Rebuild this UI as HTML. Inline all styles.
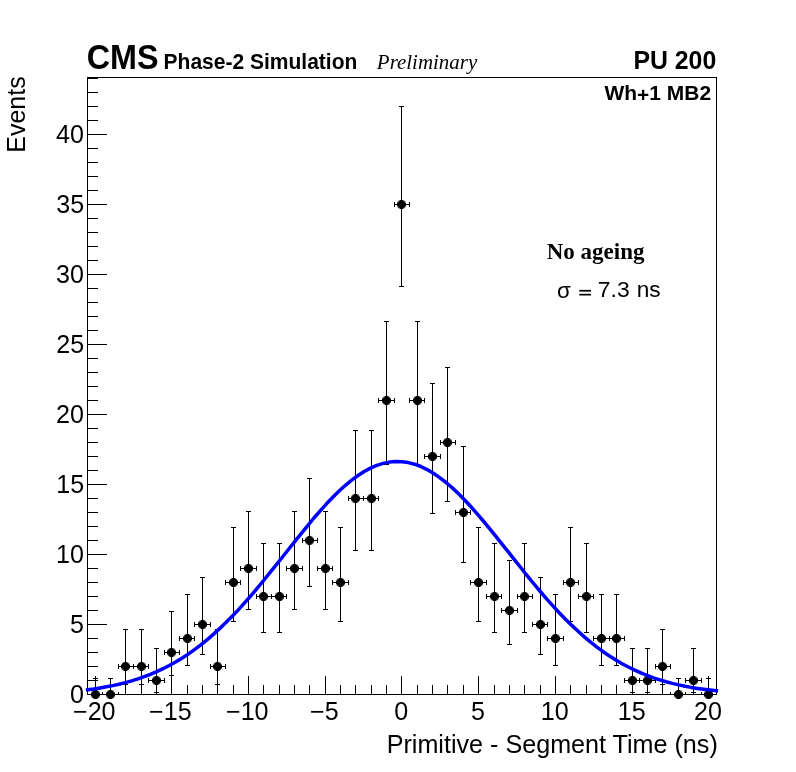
<!DOCTYPE html>
<html><head><meta charset="utf-8"><title>plot</title>
<style>html,body{margin:0;padding:0;background:#fff;overflow:hidden}svg{display:block;will-change:transform}text{fill:#000}</style></head>
<body>
<svg width="796" height="772" viewBox="0 0 796 772">
<rect width="796" height="772" fill="#fff"/>
<defs><clipPath id="fc"><rect x="87" y="77" width="630" height="618"/></clipPath></defs>
<g stroke="#000" stroke-width="1" fill="none" shape-rendering="crispEdges">
<rect x="87.5" y="77.5" width="629.0" height="617.0"/>
<path d="M95.5 694.5v-19M110.5 694.5v-10M125.5 694.5v-10M141.5 694.5v-10M156.5 694.5v-10M171.5 694.5v-19M187.5 694.5v-10M202.5 694.5v-10M217.5 694.5v-10M233.5 694.5v-10M248.5 694.5v-19M263.5 694.5v-10M279.5 694.5v-10M294.5 694.5v-10M309.5 694.5v-10M325.5 694.5v-19M340.5 694.5v-10M355.5 694.5v-10M371.5 694.5v-10M386.5 694.5v-10M401.5 694.5v-19M417.5 694.5v-10M432.5 694.5v-10M447.5 694.5v-10M463.5 694.5v-10M478.5 694.5v-19M494.5 694.5v-10M509.5 694.5v-10M524.5 694.5v-10M540.5 694.5v-10M555.5 694.5v-19M570.5 694.5v-10M586.5 694.5v-10M601.5 694.5v-10M616.5 694.5v-10M632.5 694.5v-19M647.5 694.5v-10M662.5 694.5v-10M678.5 694.5v-10M693.5 694.5v-10M708.5 694.5v-19M87.5 694.5h19M87.5 680.5h10.5M87.5 666.5h10.5M87.5 652.5h10.5M87.5 638.5h10.5M87.5 624.5h19M87.5 610.5h10.5M87.5 596.5h10.5M87.5 582.5h10.5M87.5 568.5h10.5M87.5 554.5h19M87.5 540.5h10.5M87.5 526.5h10.5M87.5 512.5h10.5M87.5 498.5h10.5M87.5 484.5h19M87.5 470.5h10.5M87.5 456.5h10.5M87.5 442.5h10.5M87.5 428.5h10.5M87.5 414.5h19M87.5 400.5h10.5M87.5 386.5h10.5M87.5 372.5h10.5M87.5 358.5h10.5M87.5 344.5h19M87.5 330.5h10.5M87.5 316.5h10.5M87.5 302.5h10.5M87.5 288.5h10.5M87.5 274.5h19M87.5 260.5h10.5M87.5 246.5h10.5M87.5 232.5h10.5M87.5 218.5h10.5M87.5 204.5h19M87.5 190.5h10.5M87.5 176.5h10.5M87.5 162.5h10.5M87.5 148.5h10.5M87.5 134.5h19M87.5 120.5h10.5M87.5 106.5h10.5M87.5 92.5h10.5M87.5 78.5h10.5"/>
<path clip-path="url(#fc)" d="M95.5 678.5V694.5M93.0 678.5h5M87.5 694.5H102.5M87.5 692.0v5M102.5 692.0v5M110.5 678.5V694.5M108.0 678.5h5M102.5 694.5H118.5M102.5 692.0v5M118.5 692.0v5M125.5 629.5V684.5M123.0 629.5h5M123.0 684.5h5M118.5 666.5H133.5M118.5 664.0v5M133.5 664.0v5M141.5 629.5V684.5M139.0 629.5h5M139.0 684.5h5M133.5 666.5H148.5M133.5 664.0v5M148.5 664.0v5M156.5 648.5V692.5M154.0 648.5h5M154.0 692.5h5M148.5 680.5H164.5M148.5 678.0v5M164.5 678.0v5M171.5 611.5V675.5M169.0 611.5h5M169.0 675.5h5M164.5 652.5H179.5M164.5 650.0v5M179.5 650.0v5M187.5 594.5V665.5M185.0 594.5h5M185.0 665.5h5M179.5 638.5H194.5M179.5 636.0v5M194.5 636.0v5M202.5 577.5V654.5M200.0 577.5h5M200.0 654.5h5M194.5 624.5H210.5M194.5 622.0v5M210.5 622.0v5M217.5 629.5V684.5M215.0 629.5h5M215.0 684.5h5M210.5 666.5H225.5M210.5 664.0v5M225.5 664.0v5M233.5 527.5V621.5M231.0 527.5h5M231.0 621.5h5M225.5 582.5H240.5M225.5 580.0v5M240.5 580.0v5M248.5 511.5V609.5M246.0 511.5h5M246.0 609.5h5M240.5 568.5H256.5M240.5 566.0v5M256.5 566.0v5M263.5 543.5V632.5M261.0 543.5h5M261.0 632.5h5M256.5 596.5H271.5M256.5 594.0v5M271.5 594.0v5M279.5 543.5V632.5M277.0 543.5h5M277.0 632.5h5M271.5 596.5H286.5M271.5 594.0v5M286.5 594.0v5M294.5 511.5V609.5M292.0 511.5h5M292.0 609.5h5M286.5 568.5H302.5M286.5 566.0v5M302.5 566.0v5M309.5 478.5V586.5M307.0 478.5h5M307.0 586.5h5M302.5 540.5H317.5M302.5 538.0v5M317.5 538.0v5M325.5 511.5V609.5M323.0 511.5h5M323.0 609.5h5M317.5 568.5H332.5M317.5 566.0v5M332.5 566.0v5M340.5 527.5V621.5M338.0 527.5h5M338.0 621.5h5M332.5 582.5H348.5M332.5 580.0v5M348.5 580.0v5M355.5 430.5V550.5M353.0 430.5h5M353.0 550.5h5M348.5 498.5H363.5M348.5 496.0v5M363.5 496.0v5M371.5 430.5V550.5M369.0 430.5h5M369.0 550.5h5M363.5 498.5H378.5M363.5 496.0v5M378.5 496.0v5M386.5 321.5V464.5M384.0 321.5h5M384.0 464.5h5M378.5 400.5H394.5M378.5 398.0v5M394.5 398.0v5M401.5 106.5V286.5M399.0 106.5h5M399.0 286.5h5M394.5 204.5H409.5M394.5 202.0v5M409.5 202.0v5M417.5 321.5V464.5M415.0 321.5h5M415.0 464.5h5M409.5 400.5H424.5M409.5 398.0v5M424.5 398.0v5M432.5 383.5V513.5M430.0 383.5h5M430.0 513.5h5M424.5 456.5H440.5M424.5 454.0v5M440.5 454.0v5M447.5 367.5V501.5M445.0 367.5h5M445.0 501.5h5M440.5 442.5H455.5M440.5 440.0v5M455.5 440.0v5M463.5 446.5V562.5M461.0 446.5h5M461.0 562.5h5M455.5 512.5H470.5M455.5 510.0v5M470.5 510.0v5M478.5 527.5V621.5M476.0 527.5h5M476.0 621.5h5M470.5 582.5H486.5M470.5 580.0v5M486.5 580.0v5M494.5 543.5V632.5M492.0 543.5h5M492.0 632.5h5M486.5 596.5H501.5M486.5 594.0v5M501.5 594.0v5M509.5 560.5V644.5M507.0 560.5h5M507.0 644.5h5M501.5 610.5H517.5M501.5 608.0v5M517.5 608.0v5M524.5 543.5V632.5M522.0 543.5h5M522.0 632.5h5M517.5 596.5H532.5M517.5 594.0v5M532.5 594.0v5M540.5 577.5V654.5M538.0 577.5h5M538.0 654.5h5M532.5 624.5H547.5M532.5 622.0v5M547.5 622.0v5M555.5 594.5V665.5M553.0 594.5h5M553.0 665.5h5M547.5 638.5H563.5M547.5 636.0v5M563.5 636.0v5M570.5 527.5V621.5M568.0 527.5h5M568.0 621.5h5M563.5 582.5H578.5M563.5 580.0v5M578.5 580.0v5M586.5 543.5V632.5M584.0 543.5h5M584.0 632.5h5M578.5 596.5H593.5M578.5 594.0v5M593.5 594.0v5M601.5 594.5V665.5M599.0 594.5h5M599.0 665.5h5M593.5 638.5H609.5M593.5 636.0v5M609.5 636.0v5M616.5 594.5V665.5M614.0 594.5h5M614.0 665.5h5M609.5 638.5H624.5M609.5 636.0v5M624.5 636.0v5M632.5 648.5V692.5M630.0 648.5h5M630.0 692.5h5M624.5 680.5H639.5M624.5 678.0v5M639.5 678.0v5M647.5 648.5V692.5M645.0 648.5h5M645.0 692.5h5M639.5 680.5H655.5M639.5 678.0v5M655.5 678.0v5M662.5 629.5V684.5M660.0 629.5h5M660.0 684.5h5M655.5 666.5H670.5M655.5 664.0v5M670.5 664.0v5M678.5 678.5V694.5M676.0 678.5h5M670.5 694.5H685.5M670.5 692.0v5M685.5 692.0v5M693.5 648.5V692.5M691.0 648.5h5M691.0 692.5h5M685.5 680.5H701.5M685.5 678.0v5M701.5 678.0v5M708.5 678.5V694.5M706.0 678.5h5M701.5 694.5H716.5M701.5 692.0v5M716.5 692.0v5"/>
</g>
<defs><g id="m" shape-rendering="crispEdges"><path fill="#000" d="M-4.5-1.5h9v3h-9zM-2.5-2.5h5v5h-5zM-1.5-4.5h3v9h-3z"/><path fill="#141414" d="M2.5 1.5h1v1h-1zM2.5 -2.5h1v1h-1zM-3.5 1.5h1v1h-1zM-3.5 -2.5h1v1h-1zM1.5 2.5h1v1h-1zM1.5 -3.5h1v1h-1zM-2.5 2.5h1v1h-1zM-2.5 -3.5h1v1h-1z"/><path fill="#505050" d="M2.5 2.5h1v1h-1zM2.5 -3.5h1v1h-1zM-3.5 2.5h1v1h-1zM-3.5 -3.5h1v1h-1z"/><path fill="#7c7c7c" d="M3.5 1.5h1v1h-1zM3.5 -2.5h1v1h-1zM-4.5 1.5h1v1h-1zM-4.5 -2.5h1v1h-1zM1.5 3.5h1v1h-1zM1.5 -4.5h1v1h-1zM-2.5 3.5h1v1h-1zM-2.5 -4.5h1v1h-1z"/><path fill="#dcdcdc" d="M3.5 2.5h1v1h-1zM3.5 -3.5h1v1h-1zM-4.5 2.5h1v1h-1zM-4.5 -3.5h1v1h-1zM2.5 3.5h1v1h-1zM2.5 -4.5h1v1h-1zM-3.5 3.5h1v1h-1zM-3.5 -4.5h1v1h-1z"/></g></defs>
<g>
<use href="#m" x="95.5" y="694.5"/>
<use href="#m" x="110.5" y="694.5"/>
<use href="#m" x="125.5" y="666.5"/>
<use href="#m" x="141.5" y="666.5"/>
<use href="#m" x="156.5" y="680.5"/>
<use href="#m" x="171.5" y="652.5"/>
<use href="#m" x="187.5" y="638.5"/>
<use href="#m" x="202.5" y="624.5"/>
<use href="#m" x="217.5" y="666.5"/>
<use href="#m" x="233.5" y="582.5"/>
<use href="#m" x="248.5" y="568.5"/>
<use href="#m" x="263.5" y="596.5"/>
<use href="#m" x="279.5" y="596.5"/>
<use href="#m" x="294.5" y="568.5"/>
<use href="#m" x="309.5" y="540.5"/>
<use href="#m" x="325.5" y="568.5"/>
<use href="#m" x="340.5" y="582.5"/>
<use href="#m" x="355.5" y="498.5"/>
<use href="#m" x="371.5" y="498.5"/>
<use href="#m" x="386.5" y="400.5"/>
<use href="#m" x="401.5" y="204.5"/>
<use href="#m" x="417.5" y="400.5"/>
<use href="#m" x="432.5" y="456.5"/>
<use href="#m" x="447.5" y="442.5"/>
<use href="#m" x="463.5" y="512.5"/>
<use href="#m" x="478.5" y="582.5"/>
<use href="#m" x="494.5" y="596.5"/>
<use href="#m" x="509.5" y="610.5"/>
<use href="#m" x="524.5" y="596.5"/>
<use href="#m" x="540.5" y="624.5"/>
<use href="#m" x="555.5" y="638.5"/>
<use href="#m" x="570.5" y="582.5"/>
<use href="#m" x="586.5" y="596.5"/>
<use href="#m" x="601.5" y="638.5"/>
<use href="#m" x="616.5" y="638.5"/>
<use href="#m" x="632.5" y="680.5"/>
<use href="#m" x="647.5" y="680.5"/>
<use href="#m" x="662.5" y="666.5"/>
<use href="#m" x="678.5" y="694.5"/>
<use href="#m" x="693.5" y="680.5"/>
<use href="#m" x="708.5" y="694.5"/>
</g>
<polyline points="87.6,689.7 93.8,688.9 100.1,687.9 106.4,686.8 112.7,685.6 119.0,684.2 125.3,682.6 131.6,680.9 137.9,678.9 144.2,676.7 150.4,674.3 156.7,671.6 163.0,668.7 169.3,665.5 175.6,662.0 181.9,658.2 188.2,654.1 194.5,649.6 200.8,644.9 207.0,639.8 213.3,634.4 219.6,628.6 225.9,622.6 232.2,616.2 238.5,609.6 244.8,602.6 251.1,595.5 257.3,588.1 263.6,580.5 269.9,572.7 276.2,564.9 282.5,557.0 288.8,549.0 295.1,541.1 301.4,533.3 307.7,525.6 313.9,518.0 320.2,510.8 326.5,503.8 332.8,497.2 339.1,491.0 345.4,485.3 351.7,480.1 358.0,475.5 364.2,471.5 370.5,468.1 376.8,465.4 383.1,463.4 389.4,462.1 395.7,461.5 402.0,461.7 408.3,462.6 414.6,464.2 420.8,466.5 427.1,469.6 433.4,473.3 439.7,477.6 446.0,482.5 452.3,487.9 458.6,493.8 464.9,500.2 471.2,507.0 477.4,514.1 483.7,521.5 490.0,529.1 496.3,536.9 502.6,544.8 508.9,552.7 515.2,560.6 521.5,568.5 527.7,576.3 534.0,584.0 540.3,591.5 546.6,598.8 552.9,605.9 559.2,612.7 565.5,619.2 571.8,625.4 578.1,631.3 584.3,636.9 590.6,642.2 596.9,647.1 603.2,651.7 609.5,656.0 615.8,660.0 622.1,663.7 628.4,667.0 634.7,670.1 640.9,672.9 647.2,675.5 653.5,677.8 659.8,679.8 666.1,681.7 672.4,683.4 678.7,684.9 685.0,686.2 691.2,687.4 697.5,688.4 703.8,689.3 710.1,690.1 716.4,690.8" fill="none" stroke="#0000ff" stroke-width="3.5" stroke-linejoin="round" stroke-linecap="square"/>
<text transform="translate(86.66,69.40) scale(0.9331,1)" font-family="&quot;Liberation Sans&quot;,sans-serif" font-size="34.64" font-weight="bold">CMS</text>
<text transform="translate(163.59,69.00) scale(0.9732,1)" font-family="&quot;Liberation Sans&quot;,sans-serif" font-size="21.59" font-weight="bold">Phase-2 Simulation</text>
<text transform="translate(376.87,68.80) scale(1.0120,1)" font-family="&quot;Liberation Serif&quot;,serif" font-size="20.69" font-style="italic">Preliminary</text>
<text transform="translate(633.39,68.90) scale(0.9804,1)" font-family="&quot;Liberation Sans&quot;,sans-serif" font-size="25.33" font-weight="bold">PU 200</text>
<text transform="translate(604.45,99.50) scale(0.9987,1)" font-family="&quot;Liberation Sans&quot;,sans-serif" font-size="21.01" font-weight="bold">Wh<tspan dy="2.8">+</tspan><tspan dy="-2.8">1 MB2</tspan></text>
<text transform="translate(546.76,258.80) scale(1.0426,1)" font-family="&quot;Liberation Serif&quot;,serif" font-size="22.06" font-weight="bold">No ageing</text>
<text transform="translate(597.82,297.30) scale(1.0206,1)" font-family="&quot;Liberation Sans&quot;,sans-serif" font-size="22.47">7.3</text>
<text transform="translate(557.05,297.79) scale(1.0400,1)" font-family="&quot;Liberation Sans&quot;,sans-serif" font-size="21.48">σ</text>
<rect x="579.3" y="289.9" width="11.7" height="1.7"/><rect x="579.3" y="293.8" width="11.7" height="1.7"/>
<text transform="translate(636.69,297.30) scale(1.0079,1)" font-family="&quot;Liberation Sans&quot;,sans-serif" font-size="22.47">ns</text>
<text transform="translate(70.04,703.10) scale(1.0000,1)" font-family="&quot;Liberation Sans&quot;,sans-serif" font-size="25.08">0</text>
<text transform="translate(70.11,633.10) scale(1.0000,1)" font-family="&quot;Liberation Sans&quot;,sans-serif" font-size="25.08">5</text>
<text transform="translate(56.12,563.10) scale(1.0000,1)" font-family="&quot;Liberation Sans&quot;,sans-serif" font-size="25.08">10</text>
<text transform="translate(56.20,493.10) scale(1.0000,1)" font-family="&quot;Liberation Sans&quot;,sans-serif" font-size="25.08">15</text>
<text transform="translate(56.12,423.10) scale(1.0000,1)" font-family="&quot;Liberation Sans&quot;,sans-serif" font-size="25.08">20</text>
<text transform="translate(56.20,353.10) scale(1.0000,1)" font-family="&quot;Liberation Sans&quot;,sans-serif" font-size="25.08">25</text>
<text transform="translate(56.12,283.10) scale(1.0000,1)" font-family="&quot;Liberation Sans&quot;,sans-serif" font-size="25.08">30</text>
<text transform="translate(56.20,213.10) scale(1.0000,1)" font-family="&quot;Liberation Sans&quot;,sans-serif" font-size="25.08">35</text>
<text transform="translate(56.12,143.10) scale(1.0000,1)" font-family="&quot;Liberation Sans&quot;,sans-serif" font-size="25.08">40</text>
<text transform="translate(73.01,719.70) scale(1.0000,1)" font-family="&quot;Liberation Sans&quot;,sans-serif" font-size="25.08">−20</text>
<text transform="translate(149.04,719.70) scale(1.0000,1)" font-family="&quot;Liberation Sans&quot;,sans-serif" font-size="25.08">−15</text>
<text transform="translate(226.01,719.70) scale(1.0000,1)" font-family="&quot;Liberation Sans&quot;,sans-serif" font-size="25.08">−10</text>
<text transform="translate(310.00,719.70) scale(1.0000,1)" font-family="&quot;Liberation Sans&quot;,sans-serif" font-size="25.08">−5</text>
<text transform="translate(394.13,719.70) scale(1.0000,1)" font-family="&quot;Liberation Sans&quot;,sans-serif" font-size="25.08">0</text>
<text transform="translate(471.12,719.70) scale(1.0000,1)" font-family="&quot;Liberation Sans&quot;,sans-serif" font-size="25.08">5</text>
<text transform="translate(540.70,719.70) scale(1.0000,1)" font-family="&quot;Liberation Sans&quot;,sans-serif" font-size="25.08">10</text>
<text transform="translate(617.74,719.70) scale(1.0000,1)" font-family="&quot;Liberation Sans&quot;,sans-serif" font-size="25.08">15</text>
<text transform="translate(694.03,719.70) scale(1.0000,1)" font-family="&quot;Liberation Sans&quot;,sans-serif" font-size="25.08">20</text>
<text transform="translate(386.68,752.90) scale(0.9831,1)" font-family="&quot;Liberation Sans&quot;,sans-serif" font-size="25.58">Primitive - Segment Time (ns)</text>
<text transform="translate(25.10,152.76) rotate(-90) scale(0.9641,1)" font-family="&quot;Liberation Sans&quot;,sans-serif" font-size="25.94">Events</text>
</svg></body></html>
